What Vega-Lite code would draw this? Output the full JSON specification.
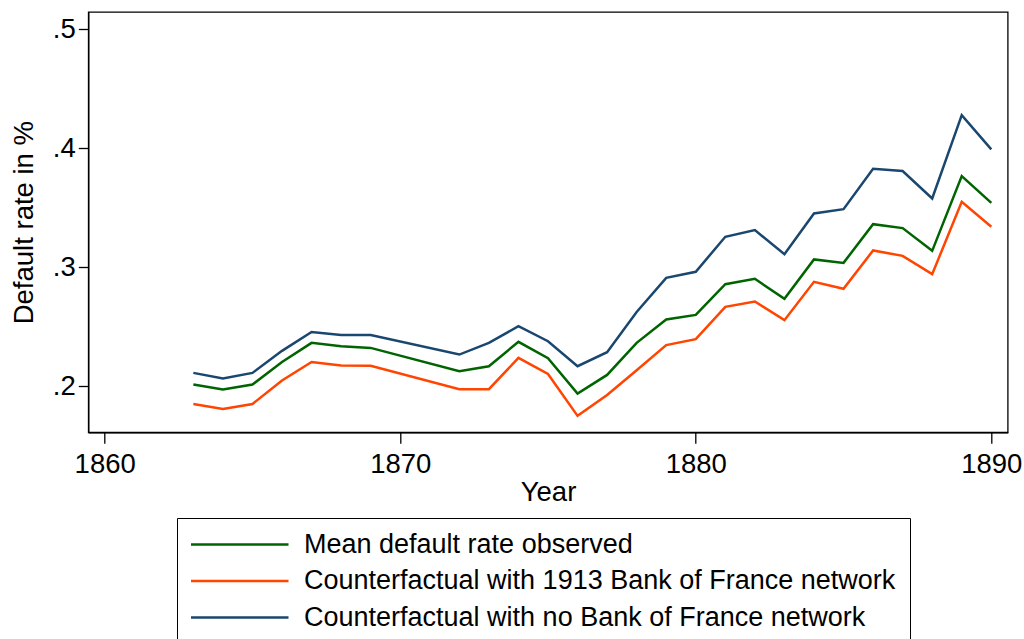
{
  "$schema": "https://vega.github.io/schema/vega-lite/v6.json",
  "autosize": {"type": "none"},
  "width": 919.4,
  "height": 420.3,
  "padding": {"left": 88.3, "top": 12, "right": 16.3, "bottom": 206.7},
  "background": "white",
  "config": {
    "font": "Liberation Sans",
    "view": {"stroke": "black", "strokeWidth": 1.3},
    "axis": {"grid": false, "domainColor": "black", "tickColor": "black", "labelColor": "black", "titleColor": "black", "labelFontSize": 27.5, "titleFontSize": 27.5, "titleFontWeight": "normal", "domainWidth": 1.3, "tickWidth": 1.3}
  },
  "datasets": {
    "rows": [
      {"year": 1863, "s": "Mean default rate observed", "v": 0.2014},
      {"year": 1864, "s": "Mean default rate observed", "v": 0.1972},
      {"year": 1865, "s": "Mean default rate observed", "v": 0.2014},
      {"year": 1866, "s": "Mean default rate observed", "v": 0.2204},
      {"year": 1867, "s": "Mean default rate observed", "v": 0.2364},
      {"year": 1868, "s": "Mean default rate observed", "v": 0.2336},
      {"year": 1869, "s": "Mean default rate observed", "v": 0.2322},
      {"year": 1872, "s": "Mean default rate observed", "v": 0.2126},
      {"year": 1873, "s": "Mean default rate observed", "v": 0.2168},
      {"year": 1874, "s": "Mean default rate observed", "v": 0.2373},
      {"year": 1875, "s": "Mean default rate observed", "v": 0.2235},
      {"year": 1876, "s": "Mean default rate observed", "v": 0.1938},
      {"year": 1877, "s": "Mean default rate observed", "v": 0.2095},
      {"year": 1878, "s": "Mean default rate observed", "v": 0.2364},
      {"year": 1879, "s": "Mean default rate observed", "v": 0.2560},
      {"year": 1880, "s": "Mean default rate observed", "v": 0.2599},
      {"year": 1881, "s": "Mean default rate observed", "v": 0.2857},
      {"year": 1882, "s": "Mean default rate observed", "v": 0.2902},
      {"year": 1883, "s": "Mean default rate observed", "v": 0.2734},
      {"year": 1884, "s": "Mean default rate observed", "v": 0.3065},
      {"year": 1885, "s": "Mean default rate observed", "v": 0.3036},
      {"year": 1886, "s": "Mean default rate observed", "v": 0.3361},
      {"year": 1887, "s": "Mean default rate observed", "v": 0.3328},
      {"year": 1888, "s": "Mean default rate observed", "v": 0.3137},
      {"year": 1889, "s": "Mean default rate observed", "v": 0.3765},
      {"year": 1890, "s": "Mean default rate observed", "v": 0.3540},
      {"year": 1863, "s": "Counterfactual with 1913 Bank of France network", "v": 0.1851},
      {"year": 1864, "s": "Counterfactual with 1913 Bank of France network", "v": 0.1809},
      {"year": 1865, "s": "Counterfactual with 1913 Bank of France network", "v": 0.1851},
      {"year": 1866, "s": "Counterfactual with 1913 Bank of France network", "v": 0.2048},
      {"year": 1867, "s": "Counterfactual with 1913 Bank of France network", "v": 0.2204},
      {"year": 1868, "s": "Counterfactual with 1913 Bank of France network", "v": 0.2174},
      {"year": 1869, "s": "Counterfactual with 1913 Bank of France network", "v": 0.2171},
      {"year": 1872, "s": "Counterfactual with 1913 Bank of France network", "v": 0.1975},
      {"year": 1873, "s": "Counterfactual with 1913 Bank of France network", "v": 0.1975},
      {"year": 1874, "s": "Counterfactual with 1913 Bank of France network", "v": 0.2238},
      {"year": 1875, "s": "Counterfactual with 1913 Bank of France network", "v": 0.2103},
      {"year": 1876, "s": "Counterfactual with 1913 Bank of France network", "v": 0.1751},
      {"year": 1877, "s": "Counterfactual with 1913 Bank of France network", "v": 0.1927},
      {"year": 1878, "s": "Counterfactual with 1913 Bank of France network", "v": 0.2134},
      {"year": 1879, "s": "Counterfactual with 1913 Bank of France network", "v": 0.2345},
      {"year": 1880, "s": "Counterfactual with 1913 Bank of France network", "v": 0.2395},
      {"year": 1881, "s": "Counterfactual with 1913 Bank of France network", "v": 0.2667},
      {"year": 1882, "s": "Counterfactual with 1913 Bank of France network", "v": 0.2712},
      {"year": 1883, "s": "Counterfactual with 1913 Bank of France network", "v": 0.2555},
      {"year": 1884, "s": "Counterfactual with 1913 Bank of France network", "v": 0.2877},
      {"year": 1885, "s": "Counterfactual with 1913 Bank of France network", "v": 0.2818},
      {"year": 1886, "s": "Counterfactual with 1913 Bank of France network", "v": 0.3140},
      {"year": 1887, "s": "Counterfactual with 1913 Bank of France network", "v": 0.3095},
      {"year": 1888, "s": "Counterfactual with 1913 Bank of France network", "v": 0.2941},
      {"year": 1889, "s": "Counterfactual with 1913 Bank of France network", "v": 0.3549},
      {"year": 1890, "s": "Counterfactual with 1913 Bank of France network", "v": 0.3339},
      {"year": 1863, "s": "Counterfactual with no Bank of France network", "v": 0.2112},
      {"year": 1864, "s": "Counterfactual with no Bank of France network", "v": 0.2065},
      {"year": 1865, "s": "Counterfactual with no Bank of France network", "v": 0.2112},
      {"year": 1866, "s": "Counterfactual with no Bank of France network", "v": 0.2297},
      {"year": 1867, "s": "Counterfactual with no Bank of France network", "v": 0.2456},
      {"year": 1868, "s": "Counterfactual with no Bank of France network", "v": 0.2431},
      {"year": 1869, "s": "Counterfactual with no Bank of France network", "v": 0.2431},
      {"year": 1872, "s": "Counterfactual with no Bank of France network", "v": 0.2266},
      {"year": 1873, "s": "Counterfactual with no Bank of France network", "v": 0.2364},
      {"year": 1874, "s": "Counterfactual with no Bank of France network", "v": 0.2504},
      {"year": 1875, "s": "Counterfactual with no Bank of France network", "v": 0.2378},
      {"year": 1876, "s": "Counterfactual with no Bank of France network", "v": 0.2168},
      {"year": 1877, "s": "Counterfactual with no Bank of France network", "v": 0.2286},
      {"year": 1878, "s": "Counterfactual with no Bank of France network", "v": 0.2624},
      {"year": 1879, "s": "Counterfactual with no Bank of France network", "v": 0.2910},
      {"year": 1880, "s": "Counterfactual with no Bank of France network", "v": 0.2961},
      {"year": 1881, "s": "Counterfactual with no Bank of France network", "v": 0.3255},
      {"year": 1882, "s": "Counterfactual with no Bank of France network", "v": 0.3311},
      {"year": 1883, "s": "Counterfactual with no Bank of France network", "v": 0.3109},
      {"year": 1884, "s": "Counterfactual with no Bank of France network", "v": 0.3451},
      {"year": 1885, "s": "Counterfactual with no Bank of France network", "v": 0.3487},
      {"year": 1886, "s": "Counterfactual with no Bank of France network", "v": 0.3826},
      {"year": 1887, "s": "Counterfactual with no Bank of France network", "v": 0.3807},
      {"year": 1888, "s": "Counterfactual with no Bank of France network", "v": 0.3577},
      {"year": 1889, "s": "Counterfactual with no Bank of France network", "v": 0.4277},
      {"year": 1890, "s": "Counterfactual with no Bank of France network", "v": 0.3989}
    ]
  },
  "data": {"name": "rows"},
  "mark": {"type": "line", "strokeWidth": 2.5, "clip": true},
  "encoding": {
    "x": {
      "field": "year", "type": "quantitative",
      "scale": {"domain": [1859.445, 1890.555], "nice": false, "zero": false},
      "axis": {"values": [1860, 1870, 1880, 1890], "format": "d", "title": "Year", "tickSize": 11, "labelPadding": 7, "titlePadding": 1}
    },
    "y": {
      "field": "v", "type": "quantitative",
      "scale": {"domain": [0.1613, 0.5143], "nice": false, "zero": false},
      "axis": {"values": [0.2, 0.3, 0.4, 0.5], "labelExpr": "replace(format(datum.value, '.1f'), '0.', '.')", "title": "Default rate in %", "tickSize": 10, "labelPadding": 3, "titlePadding": 14}
    },
    "color": {
      "field": "s", "type": "nominal",
      "scale": {
        "domain": ["Mean default rate observed", "Counterfactual with 1913 Bank of France network", "Counterfactual with no Bank of France network"],
        "range": ["#006400", "#ff4500", "#1a476f"]
      },
      "legend": {
        "orient": "none", "legendX": 88.7, "legendY": 506, "title": null,
        "symbolType": "stroke", "symbolSize": 10000, "symbolStrokeWidth": 2.5, "symbolOffset": -4,
        "clipHeight": 25, "rowPadding": 8.5, "labelFontSize": 27, "labelOffset": 14,
        "labelLimit": 1000, "labelColor": "black", "padding": 14,
        "strokeColor": "black"
      }
    }
  }
}
